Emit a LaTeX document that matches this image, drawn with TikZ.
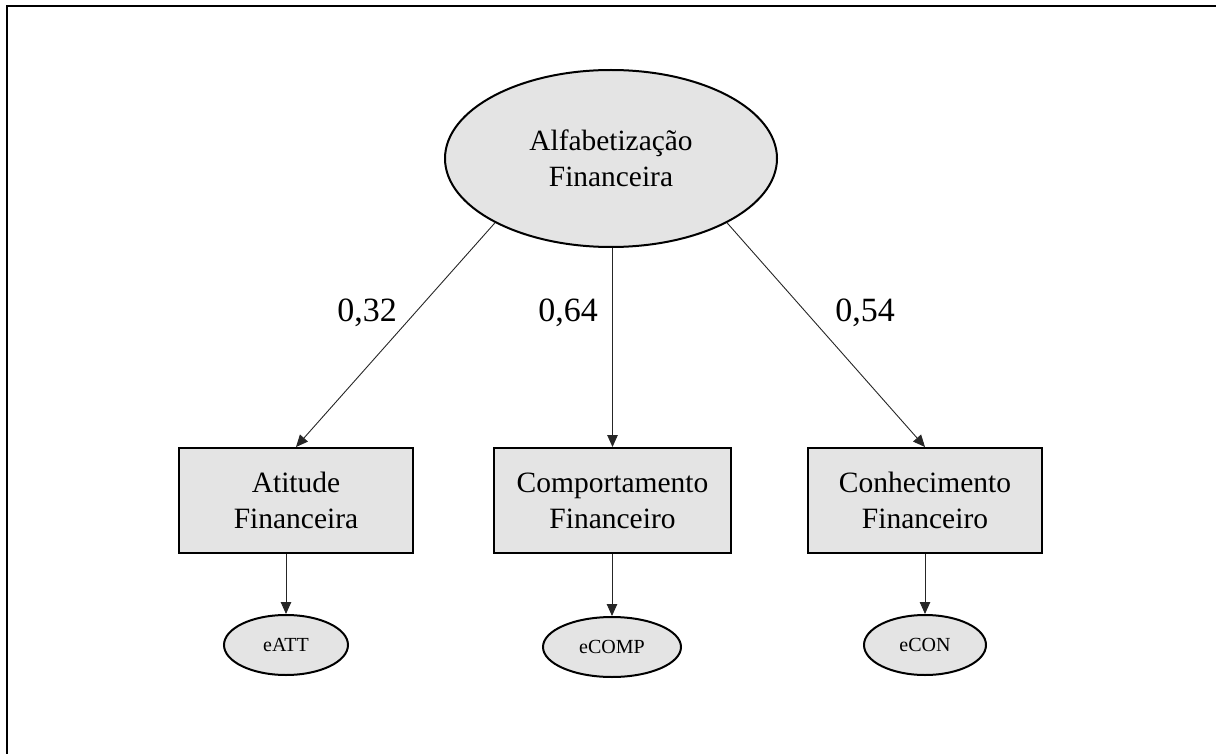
\documentclass[tikz,border=0pt]{standalone}
\usepackage{fontspec}
\setmainfont{Liberation Serif}
\usetikzlibrary{arrows.meta, positioning, shapes.geometric}
\definecolor{nodegray}{RGB}{228,228,228}

\begin{document}
\begin{tikzpicture}[x=1pt, y=-1pt,
    arrow/.style={-{Triangle[length=12pt, width=10.5pt]}, line width=0.9pt, draw=black!85},
    latent/.style={ellipse, draw, line width=2pt, fill=nodegray, inner sep=0pt, align=center,
                   font=\fontsize{29.4}{36}\selectfont},
    observed/.style={rectangle, draw, line width=2pt, fill=nodegray, inner sep=0pt,
                     minimum width=234pt, minimum height=105pt, align=center,
                     font=\fontsize{29.5}{36}\selectfont},
    errterm/.style={ellipse, draw, line width=2pt, fill=nodegray, inner sep=0pt,
                    minimum height=60pt, font=\fontsize{20}{24}\selectfont},
    weight/.style={font=\fontsize{34}{40}\selectfont}
]
    \useasboundingbox (0,0) rectangle (1216,754);

    % Frame (only top and left edges are visible)
    \draw[line width=2.6pt] (1216,6) -- (7,6) -- (7,754);

    % Latent construct
    \node[latent, minimum width=332pt, minimum height=177pt] (alfa) at (611,158.5) {Alfabetiza\c{c}\~ao\\Financeira};

    % Observed indicators
    \node[observed] (att) at (296,500.5) {Atitude\\Financeira};
    \node[observed, minimum width=237pt] (comp) at (612.5,500.5) {Comportamento\\Financeiro};
    \node[observed] (con) at (925,500.5) {Conhecimento\\Financeiro};

    % Error terms
    \node[errterm, minimum width=124pt] (eatt) at (286,645) {eATT};
    \node[errterm, minimum width=138pt] (ecomp) at (612,647) {eCOMP};
    \node[errterm, minimum width=122pt] (econ) at (925,645) {eCON};

    % Loadings
    \node[weight] (w_att) at (367,313) {0,32};
    \node[weight] (w_comp) at (568,313) {0,64};
    \node[weight] (w_con) at (865,313) {0,54};

    % Construct to indicators
    \draw[arrow] (alfa.209.4) -- (att.north);
    \draw[arrow] (alfa.south -| comp.north) -- (comp.north);
    \draw[arrow] (alfa.331.5) -- (con.north);

    % Indicators to error terms
    \draw[arrow] (att.south -| eatt.north) -- (eatt.north);
    \draw[arrow] (comp.south -| ecomp.north) -- (ecomp.north);
    \draw[arrow] (con.south -| econ.north) -- (econ.north);

\end{tikzpicture}
\end{document}
